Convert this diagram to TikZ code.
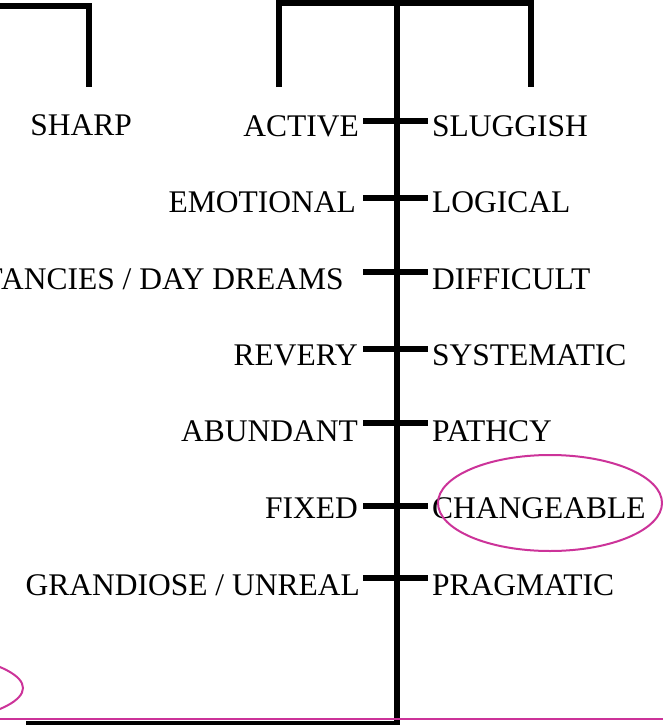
\documentclass[tikz,border=0pt]{standalone}
\usepackage{fontspec}
\setmainfont{Liberation Serif}
\definecolor{mag}{RGB}{204,51,153}
\begin{document}
\begin{tikzpicture}[x=1pt,y=-1pt,
  thick line/.style={line width=6.5pt},
  lbl/.style={inner sep=0pt,font=\fontsize{31.5}{36}\selectfont},
  leftlbl/.style={lbl,anchor=base east},
  rightlbl/.style={lbl,anchor=base west},
  magline/.style={draw=mag,line width=2pt}]
\useasboundingbox (0,0) rectangle (663,725);
\clip (0,0) rectangle (663,725);
% top structure
\coordinate (tl) at (279,87);
\coordinate (tlt) at (279,2.5);
\coordinate (trt) at (531,2.5);
\coordinate (tr) at (531,87);
\coordinate (mtop) at (397,2.5);
\coordinate (mbot) at (397,725);
\draw[thick line] (tl) -- (tlt) -- (trt) -- (tr);
\draw[thick line] (mtop) -- (mbot);
% left bracket
\coordinate (lb0) at (0,6);
\coordinate (lb1) at (89,6);
\coordinate (lb2) at (89,87);
\draw[thick line] (lb0) -- (lb1) -- (lb2);
% labels
\node[leftlbl] (sharp) at (132,135) {SHARP};
\node[leftlbl] (l1) at (359,136) {ACTIVE};
\node[leftlbl] (l2) at (356,212) {EMOTIONAL};
\node[leftlbl] (l3) at (344,289) {FANCIES / DAY DREAMS};
\node[leftlbl] (l4) at (358,365) {REVERY};
\node[leftlbl] (l5) at (358,441) {ABUNDANT};
\node[leftlbl] (l6) at (358,518) {FIXED};
\node[leftlbl] (l7) at (360,595) {GRANDIOSE / UNREAL};
\node[rightlbl] (r1) at (432,136) {SLUGGISH};
\node[rightlbl] (r2) at (432,212) {LOGICAL};
\node[rightlbl] (r3) at (432,289) {DIFFICULT};
\node[rightlbl] (r4) at (432,365) {SYSTEMATIC};
\node[rightlbl] (r5) at (432,441) {PATHCY};
\node[rightlbl] (r6) at (432,518) {CHANGEABLE};
\node[rightlbl] (r7) at (432,595) {PRAGMATIC};
% ticks
\foreach \i/\y in {1/120.5,2/198,3/272,4/349,5/423,6/506,7/578}{
  \coordinate (ta\i) at (363,\y);
  \coordinate (tb\i) at (428,\y);
  \draw[line width=6pt] (ta\i) -- (tb\i);
}
% ellipses
\draw[magline] (550,503) ellipse [x radius=112, y radius=48];
\draw[magline] (-177,688) ellipse [x radius=200, y radius=45];
% bottom lines
\coordinate (bm0) at (0,719);
\coordinate (bm1) at (663,719);
\coordinate (bk0) at (26,723);
\coordinate (bk1) at (397,723);
\draw[line width=4.5pt] (bk0) -- (bk1);
\draw[draw=mag,line width=1.5pt] (bm0) -- (bm1);
\end{tikzpicture}
\end{document}
